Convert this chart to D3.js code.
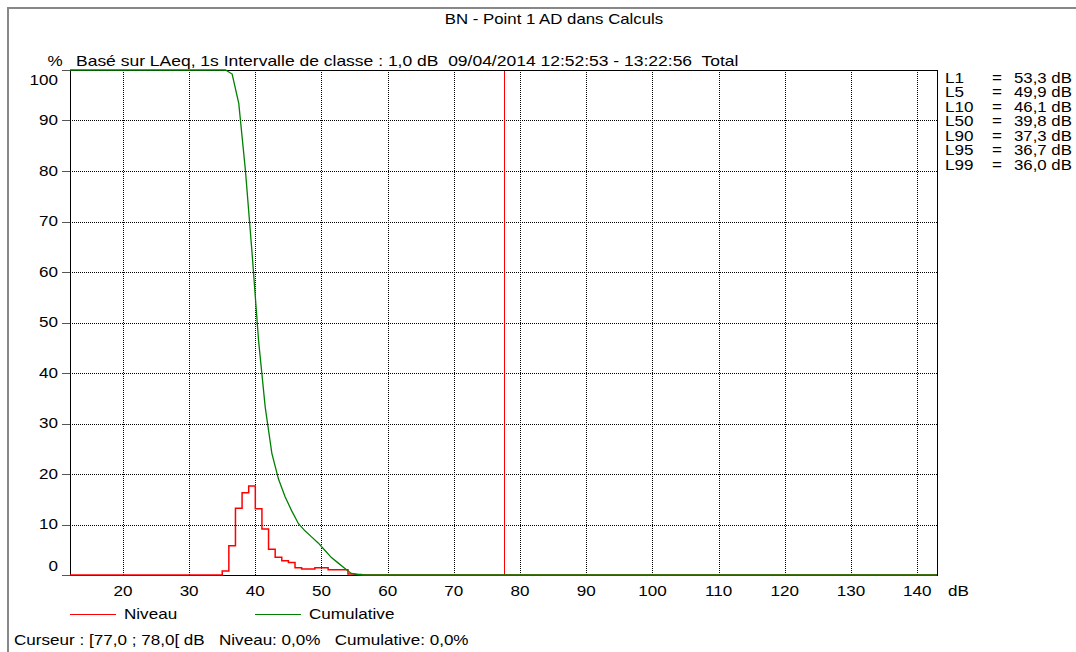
<!DOCTYPE html>
<html>
<head>
<meta charset="utf-8">
<script src="https://cdn.jsdelivr.net/npm/d3@7"></script>
<style>
  body { margin: 0; background: #fff; }
  svg { display: block; font-family: "Liberation Sans", Arial, sans-serif; }
  .grid line { stroke: #000; stroke-dasharray: 1,1; shape-rendering: crispEdges; }
</style>
</head>
<body>
<svg id="chart" width="1076" height="652"></svg>
<script>
// histogram (Niveau): lower edge of each 1 dB class and % of time in it
const niveauLevels = [35, 36, 37, 38, 39, 40, 41, 42, 43, 44, 45, 46, 47, 48, 49, 50, 51, 52, 53, 54, 55]
const niveauValues = [0.8, 5.8, 13.2, 16.3, 17.6, 13.1, 9.1, 5.1, 3.5, 2.8, 2.5, 1.45, 1.2, 1.2, 1.45, 1.45, 1.05, 1.05, 1.05, 0.2, 0.1]

// cumulative curve, plotted at class centres
const cumulativeLevels = [35.5, 36.5, 37.5, 38.5, 39.5, 40.5, 41.5, 42.5, 43.5, 44.5, 45.5, 46.5, 47.5, 48.5, 49.5, 50.5, 51.5, 52.5, 53.5, 54.5, 55.5, 56.5]
const cumulativeValues = [100, 99.2, 93.4, 80.2, 63.9, 46.3, 33.2, 24.1, 19.0, 15.5, 12.7, 10.2, 8.75, 7.55, 6.35, 4.9, 3.45, 2.4, 1.35, 0.3, 0.1, 0]

const xTicks = [20, 30, 40, 50, 60, 70, 80, 90, 100, 110, 120, 130, 140]
const yTicks = [0, 10, 20, 30, 40, 50, 60, 70, 80, 90, 100]

const statLabels = ['L1', 'L5', 'L10', 'L50', 'L90', 'L95', 'L99']
const statValues = ['53,3 dB', '49,9 dB', '46,1 dB', '39,8 dB', '37,3 dB', '36,7 dB', '36,0 dB']

const cursorLevel = 77.5

const title = 'BN - Point 1 AD dans Calculs'
const subtitle = 'Basé sur LAeq, 1s Intervalle de classe : 1,0 dB  09/04/2014 12:52:53 - 13:22:56  Total'
const cursorText = 'Curseur : [77,0 ; 78,0[ dB   Niveau: 0,0%   Cumulative: 0,0%'

const PLOT = {left: 70, right: 937, top: 70, bottom: 575}
const FONT = 14
const STRETCH = 1.22   // the original screen capture is wider than it is tall

let svg = d3.select('#chart')

let x = d3.scaleLinear().domain([12, 143]).range([PLOT.left, PLOT.right])
let y = d3.scaleLinear().domain([0, 100]).range([PLOT.bottom, PLOT.top])

// text drawn with the same horizontal stretch as the reference
function label(parent, tx, ty, str, anchor, sx) {
  return parent.append('text')
    .attr('transform', 'translate(' + tx + ',' + ty + ') scale(' + (sx || STRETCH) + ',1)')
    .attr('text-anchor', anchor || 'start')
    .attr('dy', '0.35em')
    .attr('font-size', FONT)
    .style('white-space', 'pre')
    .text(str)
}

// outer frame
svg.append('path')
  .attr('d', 'M8,652 V8 H1076')
  .attr('fill', 'none')
  .attr('stroke', '#888')
  .attr('stroke-width', 2)

label(svg, 554, 19, title, 'middle', 1.2)
label(svg, 55, 61, '%', 'middle')
label(svg, 76, 61, subtitle, 'start', 1.25)

// gridlines
let grid = svg.append('g').attr('class', 'grid')
grid.selectAll('.hgrid')
  .data(yTicks.filter(d => d > 0 && d < 100))
  .enter().append('line')
  .attr('x1', PLOT.left).attr('x2', PLOT.right)
  .attr('y1', d => Math.round(y(d)) + 0.5)
  .attr('y2', d => Math.round(y(d)) + 0.5)
grid.selectAll('.vgrid')
  .data(xTicks)
  .enter().append('line')
  .attr('y1', PLOT.top).attr('y2', PLOT.bottom)
  .attr('x1', d => Math.round(x(d)) + 0.5)
  .attr('x2', d => Math.round(x(d)) + 0.5)

// y ticks and labels
svg.selectAll('.ytick')
  .data(yTicks)
  .enter().append('line')
  .attr('x1', PLOT.left - 8).attr('x2', PLOT.left)
  .attr('y1', d => Math.round(y(d)) + 0.5)
  .attr('y2', d => Math.round(y(d)) + 0.5)
  .attr('stroke', '#555')
  .attr('shape-rendering', 'crispEdges')

yTicks.forEach(function(d) {
  // the end labels are pushed inside the axis range
  let ty = y(d)
  if (d === 100) ty += 10
  if (d === 0) ty -= 9
  label(svg, 58, ty, String(d), 'end')
})

xTicks.forEach(function(d) {
  label(svg, x(d), 591, String(d), 'middle')
})
label(svg, 948, 591, 'dB')

// plot frame
svg.append('rect')
  .attr('x', PLOT.left + 0.5).attr('y', PLOT.top + 0.5)
  .attr('width', PLOT.right - PLOT.left).attr('height', PLOT.bottom - PLOT.top)
  .attr('fill', 'none')
  .attr('stroke', '#000')
  .attr('shape-rendering', 'crispEdges')

// cursor
svg.append('line')
  .attr('x1', Math.round(x(cursorLevel)) + 0.5).attr('x2', Math.round(x(cursorLevel)) + 0.5)
  .attr('y1', PLOT.top + 1).attr('y2', PLOT.bottom)
  .attr('stroke', '#ff0000')
  .attr('stroke-width', 1)

// Niveau histogram as a step line
let xMin = x.domain()[0], xMax = x.domain()[1]
let niveauPoints = [[xMin, 0]]
  .concat(niveauLevels.map((d, i) => [d, niveauValues[i]]))
  .concat([[niveauLevels[niveauLevels.length - 1] + 1, 0], [xMax, 0]])

svg.append('path')
  .datum(niveauPoints)
  .attr('fill', 'none')
  .attr('stroke', '#f00')
  .attr('stroke-width', 1.5)
  .attr('d', d3.line().curve(d3.curveStepAfter).x(d => x(d[0])).y(d => y(d[1])))

let cumulativePoints = [[xMin, 100]]
  .concat(cumulativeLevels.map((d, i) => [d, cumulativeValues[i]]))
  .concat([[xMax, 0]])

svg.append('path')
  .datum(cumulativePoints)
  .attr('fill', 'none')
  .attr('stroke', '#008000')
  .attr('stroke-width', 1.3)
  .attr('d', d3.line().x(d => x(d[0])).y(d => y(d[1])))

// percentile list on the right
statLabels.forEach(function(name, i) {
  let ty = 78 + i * 14.5
  label(svg, 945, ty, name)
  label(svg, 992, ty, '=')
  label(svg, 1014, ty, statValues[i], 'start', 1.2)
})

// legend
let legend = [
  {label: 'Niveau', color: '#f00', x: 70},
  {label: 'Cumulative', color: '#008000', x: 255}
]
legend.forEach(function(d) {
  svg.append('line')
    .attr('x1', d.x).attr('x2', d.x + 46)
    .attr('y1', 614.5).attr('y2', 614.5)
    .attr('stroke', d.color)
  label(svg, d.x + 54, 614, d.label)
})

label(svg, 14, 640, cursorText)
</script>
</body>
</html>
